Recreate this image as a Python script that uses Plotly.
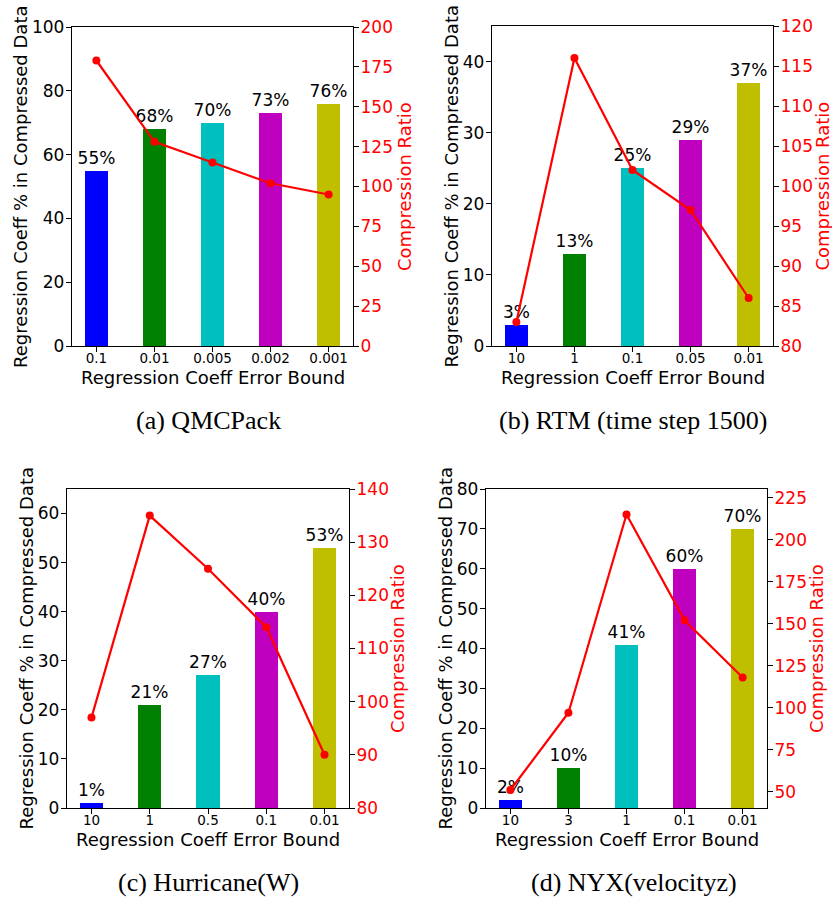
import plotly.graph_objects as go

# ---- data ----
cats_a = ["0.1", "0.01", "0.005", "0.002", "0.001"]
pct_a = [55, 68, 70, 73, 76]
ratio_a = [179, 128, 115, 102, 95]

cats_b = ["10", "1", "0.1", "0.05", "0.01"]
pct_b = [3, 13, 25, 29, 37]
ratio_b = [83, 116, 102, 97, 86]

cats_c = ["10", "1", "0.5", "0.1", "0.01"]
pct_c = [1, 21, 27, 40, 53]
ratio_c = [97, 135, 125, 114, 90]

cats_d = ["10", "3", "1", "0.1", "0.01"]
pct_d = [2, 10, 41, 60, 70]
ratio_d = [51, 97, 215, 152, 118]

captions = ["(a) QMCPack", "(b) RTM (time step 1500)", "(c) Hurricane(W)", "(d) NYX(velocityz)"]
xlabel = "Regression Coeff Error Bound"
ylabel_left = "Regression Coeff % in Compressed Data"
ylabel_right = "Compression Ratio"

bar_colors = ["#0000ff", "#008000", "#00bfbf", "#bf00bf", "#bfbf00"]

W, H = 832, 899
FONT = "DejaVu Sans"
TITLE_SIZE = 18

panels = [
    dict(cats=cats_a, pct=pct_a, ratio=ratio_a, px=(72, 353), py=(27, 346),
         yl=(0, 100), dl=20, yr=(0, 200), dr=25, cap=(208, 420),
         ltx=20.5, rtx=404.5, xty=377),
    dict(cats=cats_b, pct=pct_b, ratio=ratio_b, px=(492, 773), py=(26, 346),
         yl=(0, 45), dl=10, yr=(80, 120), dr=5, cap=(633, 420),
         ltx=451.5, rtx=822.5, xty=377),
    dict(cats=cats_c, pct=pct_c, ratio=ratio_c, px=(67, 349), py=(489, 808),
         yl=(0, 65), dl=10, yr=(80, 140), dr=10, cap=(208, 882),
         ltx=26, rtx=397.5, xty=839),
    dict(cats=cats_d, pct=pct_d, ratio=ratio_d, px=(486, 767), py=(489, 808),
         yl=(0, 80), dl=10, yr=(40.3, 230.2), dr=25, cap=(634, 882),
         ltx=445, rtx=816.5, xty=839),
]

fig = go.Figure()
layout = dict(width=W, height=H, margin=dict(l=0, r=0, t=0, b=0, autoexpand=False),
              plot_bgcolor="white", paper_bgcolor="white", showlegend=False,
              font=dict(family=FONT, color="black"), bargap=0)
annotations = []


def ann(text, x, y, size, color="black", angle=0, family=FONT):
    return dict(text=text, x=x / W, y=1 - y / H, xref="paper", yref="paper",
                xanchor="center", yanchor="middle", showarrow=False, textangle=angle,
                font=dict(size=size, family=family, color=color))


for i, p in enumerate(panels, start=1):
    xa = f"x{i}"
    yl = f"y{i}"
    yr = f"y{i+4}"
    fig.add_trace(go.Bar(x=p["cats"], y=p["pct"], xaxis=xa, yaxis=yl,
                         marker=dict(color=bar_colors, line=dict(width=0)),
                         width=0.4, texttemplate="%{y}%", textposition="outside",
                         constraintext="none",
                         textfont=dict(size=17, color="black", family=FONT),
                         cliponaxis=False, hoverinfo="skip"))
    fig.add_trace(go.Scatter(x=p["cats"], y=p["ratio"], xaxis=xa, yaxis=yr,
                             mode="lines+markers",
                             line=dict(color="#ff0000", width=2.2),
                             marker=dict(color="#ff0000", size=8),
                             cliponaxis=False))
    xd = [p["px"][0] / W, p["px"][1] / W]
    yd = [1 - p["py"][1] / H, 1 - p["py"][0] / H]
    layout[f"xaxis{i}"] = dict(domain=xd, anchor=yl, type="category",
                               range=[-0.42, 4.42], showline=True, mirror=True,
                               linecolor="black", linewidth=1.3, ticks="outside",
                               ticklen=5, tickcolor="black", showgrid=False,
                               automargin=False, ticklabelstandoff=-5,
                               tickfont=dict(size=13.5, family=FONT, color="black"))
    layout[f"yaxis{i}"] = dict(domain=yd, anchor=xa, range=list(p["yl"]),
                               dtick=p["dl"], tick0=0, showline=True,
                               linecolor="black", linewidth=1.3, ticks="outside",
                               ticklen=5, tickcolor="black", showgrid=False,
                               zeroline=False, automargin=False, ticklabelstandoff=-2,
                               tickfont=dict(size=17, family=FONT, color="black"))
    layout[f"yaxis{i+4}"] = dict(overlaying=yl, anchor=xa, side="right",
                                 range=list(p["yr"]), dtick=p["dr"], tick0=0,
                                 showline=True, linecolor="black", linewidth=1.3,
                                 ticks="outside", ticklen=5, tickcolor="black",
                                 showgrid=False, zeroline=False, automargin=False,
                                 ticklabelstandoff=-2,
                                 tickfont=dict(size=17, family=FONT, color="#ff0000"))
    cy = (p["py"][0] + p["py"][1]) / 2
    cx = (p["px"][0] + p["px"][1]) / 2
    annotations.append(ann(xlabel, cx, p["xty"], TITLE_SIZE))
    annotations.append(ann(ylabel_left, p["ltx"], cy, TITLE_SIZE, angle=-90))
    annotations.append(ann(ylabel_right, p["rtx"], cy, TITLE_SIZE, color="#ff0000", angle=-90))
    annotations.append(ann(captions[i - 1], p["cap"][0], p["cap"][1], 26,
                           family="Liberation Serif"))

layout["annotations"] = annotations
fig.update_layout(**layout)
fig.write_html("out.html")
